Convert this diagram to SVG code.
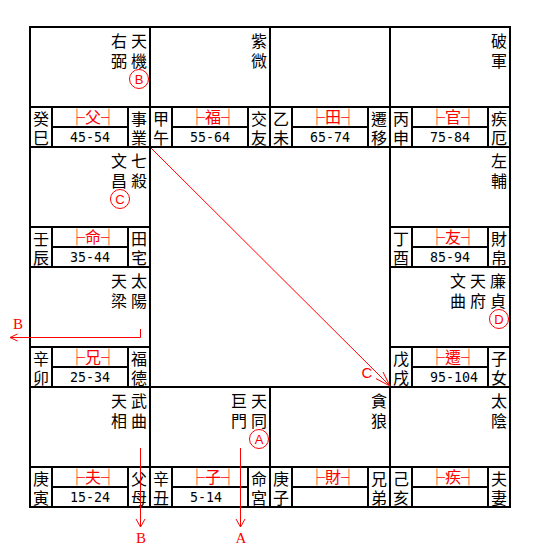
<svg xmlns="http://www.w3.org/2000/svg" width="545" height="550" viewBox="0 0 545 550">
<defs>
<style>
.bg{fill:#fff}
.box{fill:none;stroke:#000;stroke-width:2}
.ln{stroke:#000;stroke-width:2}
.v{font-family:"Noto Sans CJK TC","Noto Sans CJK JP",sans-serif;font-size:16px;fill:#000;writing-mode:vertical-rl;text-orientation:upright;letter-spacing:4px}
.vs{font-family:"Noto Sans CJK TC","Noto Sans CJK JP",sans-serif;font-size:16px;fill:#000;writing-mode:vertical-rl;text-orientation:upright;letter-spacing:3px}
.lab{font-family:"Noto Sans CJK TC","Noto Sans CJK JP",sans-serif;font-size:16px;fill:#f00;text-anchor:middle}
.age{font-family:"DejaVu Sans Mono","Liberation Mono",monospace;font-size:13.3px;fill:#000}
.cir{fill:none;stroke:#f00;stroke-width:1}
.cl{font-family:"Liberation Sans",Arial,sans-serif;font-size:13px;fill:#f00;text-anchor:middle}
.arr{fill:none;stroke:#f00;stroke-width:1}
.al{font-family:"Liberation Serif","Times New Roman",serif;font-size:15px;fill:#f00;text-anchor:middle}
.alc{font-family:"Liberation Sans",Arial,sans-serif;font-size:15px;fill:#f00;text-anchor:middle}
</style>
<g id="strip">
<rect class="box" x="0" y="0" width="120" height="120"/>
<line class="ln" x1="0" y1="80" x2="120" y2="80"/>
<line class="ln" x1="22" y1="80" x2="22" y2="120"/>
<line class="ln" x1="98" y1="80" x2="98" y2="120"/>
<line class="ln" x1="22" y1="100" x2="98" y2="100"/>
</g>
</defs>
<rect class="bg" x="0" y="0" width="545" height="550"/>

<g id="cell-si" transform="translate(30,27)">
<use href="#strip"/>
<text class="v" x="109" y="6">天機</text>
<text class="v" x="89" y="6">右弼</text>
<circle class="cir" cx="109" cy="52" r="9.5"/><text class="cl" x="109" y="56.5">B</text>
<text class="vs" x="11" y="84">癸巳</text>
<text class="lab" x="63" y="96">├父┤</text>
<text class="age" x="40" y="115">45-54</text>
<text class="vs" x="109" y="84">事業</text>
</g>

<g id="cell-wu" transform="translate(150,27)">
<use href="#strip"/>
<text class="v" x="109" y="6">紫微</text>
<text class="vs" x="11" y="84">甲午</text>
<text class="lab" x="63" y="96">├福┤</text>
<text class="age" x="40" y="115">55-64</text>
<text class="vs" x="109" y="84">交友</text>
</g>

<g id="cell-wei" transform="translate(270,27)">
<use href="#strip"/>
<text class="vs" x="11" y="84">乙未</text>
<text class="lab" x="63" y="96">├田┤</text>
<text class="age" x="40" y="115">65-74</text>
<text class="vs" x="109" y="84">遷移</text>
</g>

<g id="cell-shen" transform="translate(390,27)">
<use href="#strip"/>
<text class="v" x="109" y="6">破軍</text>
<text class="vs" x="11" y="84">丙申</text>
<text class="lab" x="63" y="96">├官┤</text>
<text class="age" x="40" y="115">75-84</text>
<text class="vs" x="109" y="84">疾厄</text>
</g>

<g id="cell-you" transform="translate(390,147)">
<use href="#strip"/>
<text class="v" x="109" y="6">左輔</text>
<text class="vs" x="11" y="84">丁酉</text>
<text class="lab" x="63" y="96">├友┤</text>
<text class="age" x="40" y="115">85-94</text>
<text class="vs" x="109" y="84">財帛</text>
</g>

<g id="cell-xu" transform="translate(390,267)">
<use href="#strip"/>
<text class="v" x="108" y="6">廉貞</text>
<text class="v" x="88" y="6">天府</text>
<text class="v" x="68" y="6">文曲</text>
<circle class="cir" cx="109" cy="52" r="9.5"/><text class="cl" x="109" y="56.5">D</text>
<text class="vs" x="11" y="84">戊戌</text>
<text class="lab" x="63" y="96">├遷┤</text>
<text class="age" x="40" y="115">95-104</text>
<text class="vs" x="109" y="84">子女</text>
</g>

<g id="cell-hai" transform="translate(390,387)">
<use href="#strip"/>
<text class="v" x="109" y="6">太陰</text>
<text class="vs" x="11" y="84">己亥</text>
<text class="lab" x="63" y="96">├疾┤</text>
<text class="vs" x="109" y="84">夫妻</text>
</g>

<g id="cell-zi" transform="translate(270,387)">
<use href="#strip"/>
<text class="v" x="109" y="6">貪狼</text>
<text class="vs" x="11" y="84">庚子</text>
<text class="lab" x="63" y="96">├財┤</text>
<text class="vs" x="109" y="84">兄弟</text>
</g>

<g id="cell-chou" transform="translate(150,387)">
<use href="#strip"/>
<text class="v" x="109" y="6">天同</text>
<text class="v" x="89" y="6">巨門</text>
<circle class="cir" cx="109" cy="52" r="9.5"/><text class="cl" x="109" y="56.5">A</text>
<text class="vs" x="11" y="84">辛丑</text>
<text class="lab" x="63" y="96">├子┤</text>
<text class="age" x="40" y="115">5-14</text>
<text class="vs" x="109" y="84">命宮</text>
</g>

<g id="cell-yin" transform="translate(30,387)">
<use href="#strip"/>
<text class="v" x="109" y="6">武曲</text>
<text class="v" x="89" y="6">天相</text>
<text class="vs" x="11" y="84">庚寅</text>
<text class="lab" x="63" y="96">├夫┤</text>
<text class="age" x="40" y="115">15-24</text>
<text class="vs" x="109" y="84">父母</text>
</g>

<g id="cell-mao" transform="translate(30,267)">
<use href="#strip"/>
<text class="v" x="109" y="6">太陽</text>
<text class="v" x="89" y="6">天梁</text>
<text class="vs" x="11" y="84">辛卯</text>
<text class="lab" x="63" y="96">├兄┤</text>
<text class="age" x="40" y="115">25-34</text>
<text class="vs" x="109" y="84">福德</text>
</g>

<g id="cell-chen" transform="translate(30,147)">
<use href="#strip"/>
<text class="v" x="109" y="6">七殺</text>
<text class="v" x="89" y="6">文昌</text>
<circle class="cir" cx="90" cy="52" r="9.5"/><text class="cl" x="90" y="56.5">C</text>
<text class="vs" x="11" y="84">壬辰</text>
<text class="lab" x="63" y="96">├命┤</text>
<text class="age" x="40" y="115">35-44</text>
<text class="vs" x="109" y="84">田宅</text>
</g>

<g id="connectors">
<line class="arr" x1="151" y1="148" x2="390" y2="386"/>
<polyline class="arr" points="376,378.7 390,386 383,372"/>
<text class="alc" x="367" y="378">C</text>
<polyline class="arr" points="140.5,329 140.5,337.5 10,337.5"/>
<polyline class="arr" points="17.5,334 10,337.5 17.5,341"/>
<text class="al" x="18" y="329">B</text>
<line class="arr" x1="140.5" y1="448" x2="140.5" y2="527"/>
<polyline class="arr" points="136,519 140.5,527 145,519"/>
<text class="al" x="141" y="543">B</text>
<line class="arr" x1="240.5" y1="448" x2="240.5" y2="527"/>
<polyline class="arr" points="236,519 240.5,527 245,519"/>
<text class="al" x="241" y="543">A</text>
</g>
</svg>
